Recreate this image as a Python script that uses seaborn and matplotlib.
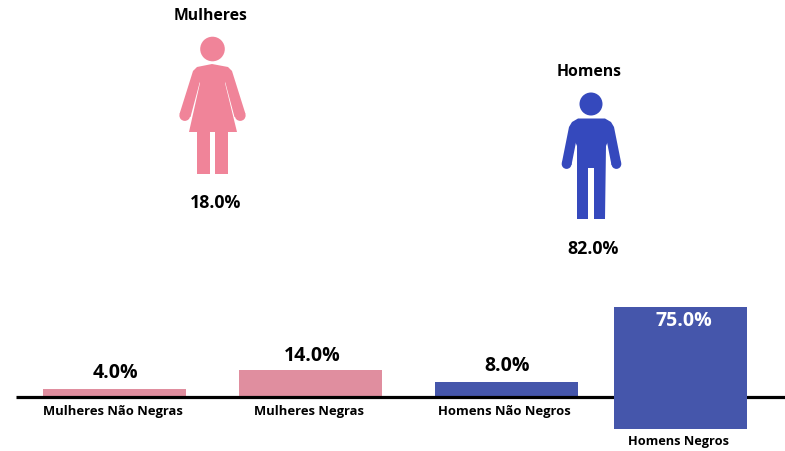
import matplotlib
matplotlib.use('Agg')
import matplotlib.pyplot as plt
import seaborn as sns
from matplotlib.patches import Circle, Polygon

# valores
categorias = ['Mulheres Não Negras', 'Mulheres Negras', 'Homens Não Negros', 'Homens Negros']
rotulos = ['4.0%', '14.0%', '8.0%', '75.0%']
grupos = ['Mulheres', 'Homens']
grupos_rotulos = ['18.0%', '82.0%']

# barras como aparecem na imagem: a última sai da escala e passa da linha de base
alturas_curtas = [4.0, 14.0, 8.0]
topo_negros = 47.4
base_negros = -16.8

centros = [114.5, 310.5, 506.5]
centro_negros = 680.5
ROSA_BARRA = '#E08E9F'
AZUL_BARRA = '#4556AB'
ROSA = '#F08499'
AZUL = '#3549BD'
FONTE = 'Open Sans'
PX_POR_PCT = 1.9
Y0 = 397

sns.set_theme(style='white')
plt.rcParams['font.family'] = [FONTE, 'DejaVu Sans']

fig = plt.figure(figsize=(7.85, 4.51), dpi=100)
ax = fig.add_axes([0, 0, 1, 1])

sns.barplot(x=centros, y=alturas_curtas, native_scale=True, width=143 / 196,
            color=ROSA_BARRA, saturation=1, errorbar=None, ax=ax, zorder=2, linewidth=0)
ax.patches[2].set_facecolor(AZUL_BARRA)
sns.barplot(x=[centro_negros], y=[topo_negros - base_negros], bottom=base_negros,
            native_scale=True, width=133, color=AZUL_BARRA, saturation=1,
            errorbar=None, ax=ax, zorder=4, linewidth=0)
ax.set_xlim(0, 785)
ax.set_ylim(-(451 - Y0) / PX_POR_PCT, Y0 / PX_POR_PCT)
ax.axis('off')

# linha de base
ax.plot([16, 785], [0, 0], color='black', lw=2.3, zorder=3, solid_capstyle='butt')

# camada em pixels para textos e ícones
px = fig.add_axes([0, 0, 1, 1], zorder=5)
px.set_xlim(0, 785)
px.set_ylim(451, 0)
px.axis('off')
px.patch.set_alpha(0)


def texto(x, y, s, tam, cor='black'):
    px.text(x, y, s, fontsize=tam, fontweight='bold', color=cor, ha='center', va='center')


texto(115.5, 373, rotulos[0], 14)
texto(312, 356, rotulos[1], 14)
texto(507.5, 366, rotulos[2], 14)
texto(683.5, 321, rotulos[3], 14, 'white')

texto(112.5, 411, categorias[0], 9.4)
texto(308.5, 411, categorias[1], 9.4)
texto(504, 411, categorias[2], 9.4)
texto(679, 442, categorias[3], 9.2)

texto(211, 16, grupos[0], 11.3)
texto(589, 72, grupos[1], 11.3)
texto(216, 203, grupos_rotulos[0], 12.8)
texto(593, 249, grupos_rotulos[1], 12.8)


def braco(pontos, ponta, cor, larg):
    # ombro largo em polígono e mão arredondada na ponta
    px.add_patch(Polygon(pontos, color=cor, lw=0))
    px.add_patch(Circle(ponta, larg / 2, color=cor, lw=0))


# mulher
px.add_patch(Circle((212.5, 49), 12.3, color=ROSA, lw=0))
px.add_patch(Polygon([(193, 71), (197, 67), (212, 64), (228, 67), (232, 71), (225, 83),
                      (237, 132), (189, 132), (200, 83)], color=ROSA, lw=0))
braco([(193, 71), (203, 70), (190.5, 117), (179.5, 114)], (184.8, 115.5), ROSA, 10.8)
braco([(232, 71), (222, 70), (234.5, 117), (245.5, 114)], (240.2, 115.5), ROSA, 10.8)
px.add_patch(Polygon([(197, 130), (210, 130), (210, 174), (197, 174)], color=ROSA, lw=0))
px.add_patch(Polygon([(215, 130), (228, 130), (228, 174), (215, 174)], color=ROSA, lw=0))

# homem
px.add_patch(Circle((591, 104), 11.5, color=AZUL, lw=0))
px.add_patch(Polygon([(569, 127), (572, 122), (578, 118.5), (605, 118.5), (611, 122), (614, 127),
                      (606, 146), (605, 219), (594, 219), (594, 168), (588, 168), (588, 219),
                      (577, 219), (577, 146)], color=AZUL, lw=0))
braco([(569, 127), (579, 127), (571.5, 165), (561.8, 163)], (566.6, 164), AZUL, 9.8)
braco([(614, 127), (604, 127), (611.5, 165), (621.2, 163)], (616.4, 164), AZUL, 9.8)

fig.savefig('out.png', dpi=100)
